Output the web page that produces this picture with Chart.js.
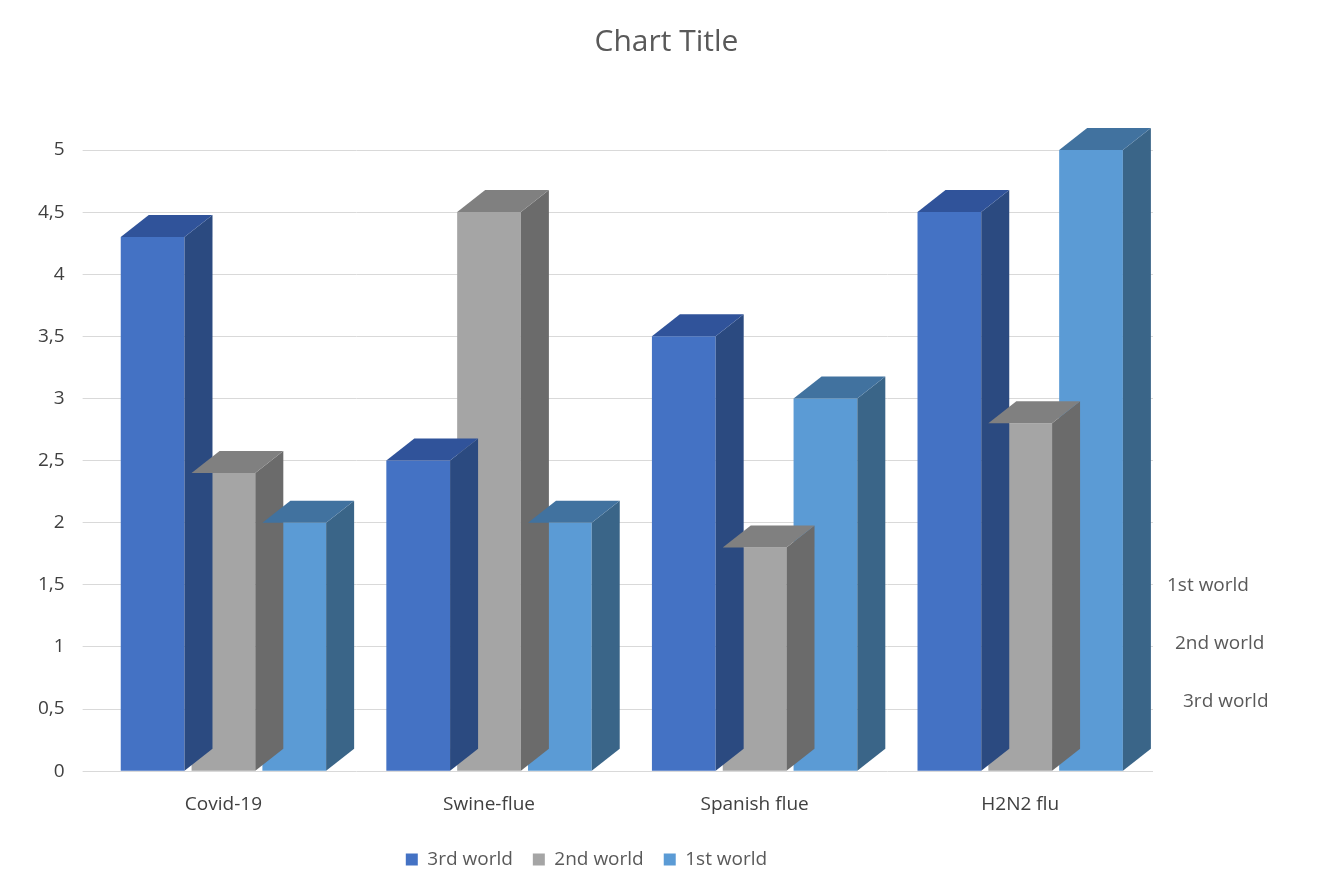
<!DOCTYPE html>
<html>
<head>
<meta charset="utf-8">
<script src="https://cdn.jsdelivr.net/npm/chart.js@4/dist/chart.umd.min.js"></script>
<style>
  body { margin: 0; background: #fff; }
  #wrap { width: 1333px; height: 889px; }
</style>
</head>
<body>
<div id="wrap"><canvas id="chart"></canvas></div>
<script>
// Data
const categories = ["Covid-19", "Swine-flue", "Spanish flue", "H2N2 flu"];
const seriesNames = ["3rd world", "2nd world", "1st world"];
const thirdWorld = [4.3, 2.5, 3.5, 4.5];
const secondWorld = [2.4, 4.5, 1.8, 2.8];
const firstWorld = [2.0, 2.0, 3.0, 5.0];

// fake 3D: draw a darker side and top face next to every bar, plus title and depth labels
const depthPlugin = {
  id: "depth",
  afterDatasetsDraw(chart) {
    const ctx = chart.ctx;
    const dx = 28, dy = 22;
    chart.data.datasets.forEach((ds, i) => {
      const meta = chart.getDatasetMeta(i);
      if (meta.hidden) return;
      meta.data.forEach(bar => {
        const left = bar.x - bar.width / 2, right = bar.x + bar.width / 2;
        const top = bar.y, bottom = bar.base;
        ctx.save();
        ctx.fillStyle = ds.sideColor;
        ctx.beginPath();
        ctx.moveTo(right, top);
        ctx.lineTo(right + dx, top - dy);
        ctx.lineTo(right + dx, bottom - dy);
        ctx.lineTo(right, bottom);
        ctx.closePath();
        ctx.fill();
        ctx.fillStyle = ds.topColor;
        ctx.beginPath();
        ctx.moveTo(left, top);
        ctx.lineTo(left + dx, top - dy);
        ctx.lineTo(right + dx, top - dy);
        ctx.lineTo(right, top);
        ctx.closePath();
        ctx.fill();
        ctx.restore();
      });
    });
    const area = chart.chartArea;
    ctx.save();
    ctx.fillStyle = "#595959";
    ctx.textAlign = "center";
    ctx.textBaseline = "middle";
    ctx.font = "30px 'Open Sans'";
    ctx.fillText("Chart Title", chart.width / 2, 42);
    ctx.font = "19px 'Open Sans'";
    ctx.textAlign = "left";
    seriesNames.forEach((name, i) => {
      ctx.fillText(name, area.right + 30 + i * 8 - 16 * i + 16 * (2 - i) - 16 * (2 - i), area.bottom - 70 - i * 58 + 0);
    });
    ctx.restore();
  }
};

new Chart(document.getElementById("chart"), {
  type: "bar",
  data: {
    labels: categories,
    datasets: [
      { label: seriesNames[0], data: thirdWorld, backgroundColor: "#4472c4", sideColor: "#2b4a80", topColor: "#30539a" },
      { label: seriesNames[1], data: secondWorld, backgroundColor: "#a5a5a5", sideColor: "#6b6b6b", topColor: "#808080" },
      { label: seriesNames[2], data: firstWorld, backgroundColor: "#5b9bd5", sideColor: "#3a6588", topColor: "#41729f" }
    ]
  },
  options: {
    responsive: true,
    maintainAspectRatio: false,
    animation: false,
    layout: { padding: { left: 20, right: 180, top: 150, bottom: 10 } },
    datasets: { bar: { categoryPercentage: 0.8, barPercentage: 0.9 } },
    plugins: {
      legend: {
        position: "bottom",
        labels: { boxWidth: 12, boxHeight: 12, color: "#595959", font: { family: "Open Sans", size: 19 }, padding: 20 }
      },
      tooltip: { enabled: false }
    },
    scales: {
      x: {
        grid: { display: false },
        border: { display: false },
        ticks: { color: "#404040", font: { family: "Open Sans", size: 19 }, padding: 14 }
      },
      y: {
        min: 0, max: 5,
        grid: { color: "#d9d9d9" },
        border: { display: false },
        ticks: {
          stepSize: 0.5, color: "#404040", padding: 18,
          font: { family: "Open Sans", size: 19 },
          callback: v => String(v).replace(".", ",")
        }
      }
    }
  },
  plugins: [depthPlugin]
});
</script>
</body>
</html>
